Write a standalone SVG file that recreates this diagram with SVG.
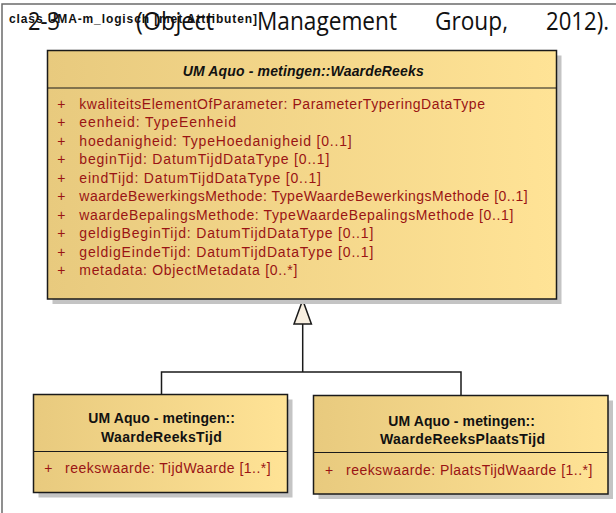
<svg xmlns="http://www.w3.org/2000/svg" width="616" height="513" viewBox="0 0 616 513">
  <style>
    .frame { stroke: #6b6b6b; stroke-width: 1.5; fill: none; }
    .hdr { font-family: "Liberation Sans", Arial, sans-serif; font-size: 12px; font-weight: bold; fill: #111; }
    .para { font-family: "Open Sans", "Noto Sans", sans-serif; font-size: 25px; fill: #111; }
    .box { fill: url(#classFill); stroke: #1a1a1a; stroke-width: 1.5; }
    .shadow { fill: #c4c4c4; }
    .sep { stroke: #1a1a1a; stroke-width: 1.2; }
    .title { font-family: "Liberation Sans", Arial, sans-serif; font-size: 14px; font-weight: bold; fill: #111; }
    .attr { font-family: "Liberation Sans", Arial, sans-serif; font-size: 14px; fill: #9a1414; }
    .edge { stroke: #1a1a1a; stroke-width: 1.5; fill: none; }
  </style>
  <defs>
    <linearGradient id="classFill" x1="0" y1="0" x2="1" y2="0">
      <stop offset="0" stop-color="#e8ca7e"/>
      <stop offset="1" stop-color="#ffe396"/>
    </linearGradient>
  </defs>

  <rect x="0" y="0" width="616" height="513" fill="#ffffff"/>

  <!-- diagram frame -->
  <path class="frame" d="M2,513 V4 H616"/>
  <text class="hdr" x="9" y="23" textLength="248" lengthAdjust="spacing">class UMA-m_logisch [met Attributen]</text>

  <!-- running document text overlapping the frame label -->
  <g class="para">
    <text x="28" y="30" textLength="32" lengthAdjust="spacingAndGlyphs">2-3</text>
    <text x="136" y="30" textLength="78" lengthAdjust="spacingAndGlyphs">(Object</text>
    <text x="257" y="30" textLength="140" lengthAdjust="spacingAndGlyphs">Management</text>
    <text x="435" y="30" textLength="73" lengthAdjust="spacingAndGlyphs">Group,</text>
    <text x="546" y="30" textLength="63" lengthAdjust="spacingAndGlyphs">2012).</text>
  </g>

  <!-- connectors: generalization -->
  <g id="connectors">
    <path class="edge" d="M161.5,394.5 V372 H461 V395.5"/>
    <path class="edge" d="M302.7,372 V324"/>
    <polygon points="302.7,300 294,324 311.4,324" fill="#f8efe0" stroke="#1a1a1a" stroke-width="1.5"/>
  </g>

  <!-- WaardeReeks -->
  <g id="WaardeReeks">
    <rect class="shadow" x="52.5" y="55.5" width="509" height="248.5"/>
    <rect class="box" x="47.5" y="50.5" width="509" height="248.5"/>
    <line class="sep" x1="47.5" y1="88" x2="556.5" y2="88"/>
    <text class="title" x="182.7" y="76" font-style="italic" textLength="241" lengthAdjust="spacing">UM Aquo - metingen::WaardeReeks</text>
    <g class="attr">
      <text x="57.3" y="108.5">+</text>
      <text x="79.3" y="108.5" textLength="405.7" lengthAdjust="spacing">kwaliteitsElementOfParameter:  ParameterTyperingDataType</text>
      <text x="57.3" y="127">+</text>
      <text x="79.3" y="127" textLength="156.7" lengthAdjust="spacing">eenheid:  TypeEenheid</text>
      <text x="57.3" y="145.6">+</text>
      <text x="79.3" y="145.6" textLength="272.4" lengthAdjust="spacing">hoedanigheid:  TypeHoedanigheid [0..1]</text>
      <text x="57.3" y="164.1">+</text>
      <text x="79.3" y="164.1" textLength="250" lengthAdjust="spacing">beginTijd:  DatumTijdDataType [0..1]</text>
      <text x="57.3" y="182.7">+</text>
      <text x="79.3" y="182.7" textLength="241.7" lengthAdjust="spacing">eindTijd:  DatumTijdDataType [0..1]</text>
      <text x="57.3" y="201.2">+</text>
      <text x="79.3" y="201.2" textLength="448.4" lengthAdjust="spacing">waardeBewerkingsMethode:  TypeWaardeBewerkingsMethode [0..1]</text>
      <text x="57.3" y="219.8">+</text>
      <text x="79.3" y="219.8" textLength="434" lengthAdjust="spacing">waardeBepalingsMethode:  TypeWaardeBepalingsMethode [0..1]</text>
      <text x="57.3" y="238.3">+</text>
      <text x="79.3" y="238.3" textLength="294" lengthAdjust="spacing">geldigBeginTijd:  DatumTijdDataType [0..1]</text>
      <text x="57.3" y="256.9">+</text>
      <text x="79.3" y="256.9" textLength="294" lengthAdjust="spacing">geldigEindeTijd:  DatumTijdDataType [0..1]</text>
      <text x="57.3" y="275.4">+</text>
      <text x="79.3" y="275.4" textLength="218" lengthAdjust="spacing">metadata:  ObjectMetadata [0..*]</text>
    </g>
  </g>

  <!-- WaardeReeksTijd -->
  <g id="WaardeReeksTijd">
    <rect class="shadow" x="38.5" y="399.5" width="254" height="98"/>
    <rect class="box" x="33.5" y="394.5" width="254" height="98"/>
    <line class="sep" x1="33.5" y1="451.5" x2="287.5" y2="451.5"/>
    <text class="title" x="88.3" y="423.3" textLength="146.7" lengthAdjust="spacing">UM Aquo - metingen::</text>
    <text class="title" x="101" y="441.7" textLength="120.7" lengthAdjust="spacing">WaardeReeksTijd</text>
    <text class="attr" x="44.3" y="472.7">+</text>
    <text class="attr" x="65" y="472.7" textLength="205.7" lengthAdjust="spacing">reekswaarde:  TijdWaarde [1..*]</text>
  </g>

  <!-- WaardeReeksPlaatsTijd -->
  <g id="WaardeReeksPlaatsTijd">
    <rect class="shadow" x="318.5" y="400.5" width="294.5" height="98.5"/>
    <rect class="box" x="313.5" y="395.5" width="294.5" height="98.5"/>
    <line class="sep" x1="313.5" y1="452.5" x2="608" y2="452.5"/>
    <text class="title" x="388.3" y="426" textLength="146.7" lengthAdjust="spacing">UM Aquo - metingen::</text>
    <text class="title" x="380" y="444" textLength="165" lengthAdjust="spacing">WaardeReeksPlaatsTijd</text>
    <text class="attr" x="325" y="475">+</text>
    <text class="attr" x="346" y="475" textLength="246.3" lengthAdjust="spacing">reekswaarde:  PlaatsTijdWaarde [1..*]</text>
  </g>
</svg>
